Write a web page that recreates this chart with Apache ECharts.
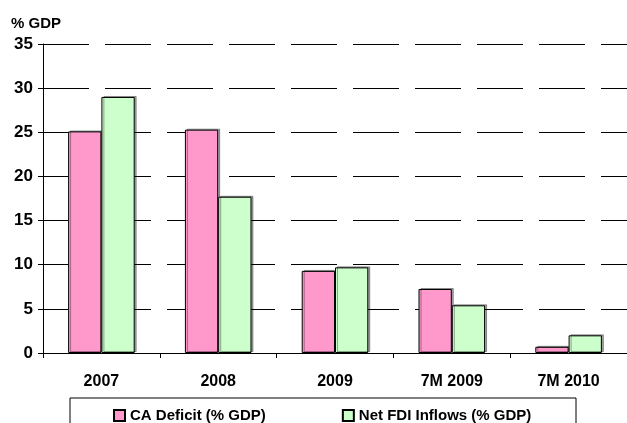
<!DOCTYPE html>
<html>
<head>
<meta charset="utf-8">
<script src="https://cdn.jsdelivr.net/npm/echarts@6/dist/echarts.min.js"></script>
<style>
  html, body { margin: 0; padding: 0; background: #fff; }
  #chart { width: 627px; height: 423px; }
</style>
</head>
<body>
<div id="chart"></div>
<script>
const categories = ['2007', '2008', '2009', '7M 2009', '7M 2010'];
const caDeficit = [25.1, 25.3, 9.3, 7.25, 0.7];
const netFdi = [29.0, 17.7, 9.7, 5.4, 2.0];
const yTicks = [0, 5, 10, 15, 20, 25, 30, 35];

const font = '"Liberation Sans", Arial, sans-serif';

const chart = echarts.init(document.getElementById('chart'));

const barStyle = (color) => ({
  color: color,
  borderColor: '#000',
  borderWidth: 1,
  shadowColor: 'rgba(0,0,0,0.35)',
  shadowOffsetX: 2,
  shadowOffsetY: -1,
  shadowBlur: 0,
});

const option = {
  animation: false,
  backgroundColor: '#fff',
  title: {
    text: '% GDP',
    left: 6,
    top: 11,
    textStyle: { fontFamily: font, fontSize: 15, fontWeight: 'bold', color: '#000' },
  },
  grid: { left: 43, right: -3, top: 44, bottom: 70, containLabel: false },
  legend: {
    left: 113,
    top: 408,
    padding: 0,
    itemWidth: 11,
    itemHeight: 11,
    itemGap: 76,
    icon: 'rect',
    textStyle: { fontFamily: font, fontSize: 15, fontWeight: 'bold', color: '#000' },
    data: ['CA Deficit (% GDP)', 'Net FDI Inflows (% GDP)'],
  },
  graphic: [{
    type: 'rect',
    shape: { x: 70, y: 398, width: 506, height: 40 },
    style: { fill: 'none', stroke: '#000', lineWidth: 1 },
    silent: true,
  }],
  xAxis: {
    type: 'category',
    data: categories,
    axisLine: { lineStyle: { color: '#000', width: 1 } },
    axisTick: { show: true, length: 5, inside: false, lineStyle: { color: '#000' } },
    axisLabel: { fontFamily: font, fontSize: 16, fontWeight: 'bold', color: '#000', margin: 21 },
  },
  yAxis: {
    type: 'value',
    min: 0,
    max: yTicks[yTicks.length - 1],
    interval: 5,
    axisLine: { show: true, lineStyle: { color: '#000', width: 1 } },
    axisTick: { show: true, length: 5, lineStyle: { color: '#000' } },
    axisLabel: { fontFamily: font, fontSize: 17, fontWeight: 'bold', color: '#000', margin: 10 },
    splitLine: { show: true, lineStyle: { color: '#000', width: 1, type: [46, 16] } },
  },
  series: [
    {
      name: 'CA Deficit (% GDP)',
      type: 'bar',
      data: caDeficit,
      barGap: '0%',
      barCategoryGap: '43%',
      itemStyle: barStyle('#FF99CC'),
    },
    {
      name: 'Net FDI Inflows (% GDP)',
      type: 'bar',
      data: netFdi,
      itemStyle: barStyle('#CCFFCC'),
    },
  ],
};

chart.setOption(option);
</script>
</body>
</html>
